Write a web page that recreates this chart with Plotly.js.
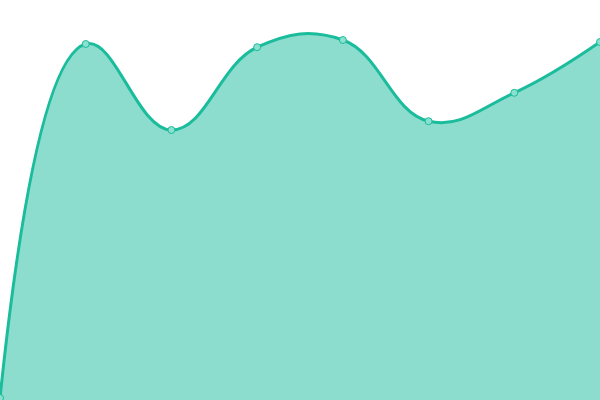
<!DOCTYPE html>
<html>
<head>
<meta charset="utf-8">
<script src="https://cdn.plot.ly/plotly-3.0.1.min.js"></script>
<style>
  html, body { margin: 0; padding: 0; background: #fff; }
  #chart { width: 600px; height: 400px; }
</style>
</head>
<body>
<div id="chart"></div>
<script>
// area values
var xIndex = [0, 1, 2, 3, 4, 5, 6, 7];
var yValues = [0.5, 89, 67.5, 88.2, 90, 69.7, 76.8, 89.5];

var area = {
  x: xIndex,
  y: yValues,
  type: 'scatter',
  mode: 'lines+markers',
  fill: 'tozeroy',
  fillcolor: 'rgba(26, 188, 156, 0.5)',
  line: { color: '#1abc9c', width: 3, shape: 'spline', smoothing: 1.2 },
  marker: {
    size: 7,
    color: '#8be0cf',
    line: { color: '#1abc9c', width: 1 }
  },
  cliponaxis: false,
  hoverinfo: 'none'
};

var layout = {
  width: 600,
  height: 400,
  margin: { l: 0, r: 0, t: 0, b: 0 },
  paper_bgcolor: '#fff',
  plot_bgcolor: '#fff',
  showlegend: false,
  xaxis: { range: [0, 7], visible: false, fixedrange: true },
  yaxis: { range: [0, 100], visible: false, fixedrange: true }
};

Plotly.newPlot('chart', [area], layout, { displayModeBar: false, staticPlot: true });
</script>
</body>
</html>
